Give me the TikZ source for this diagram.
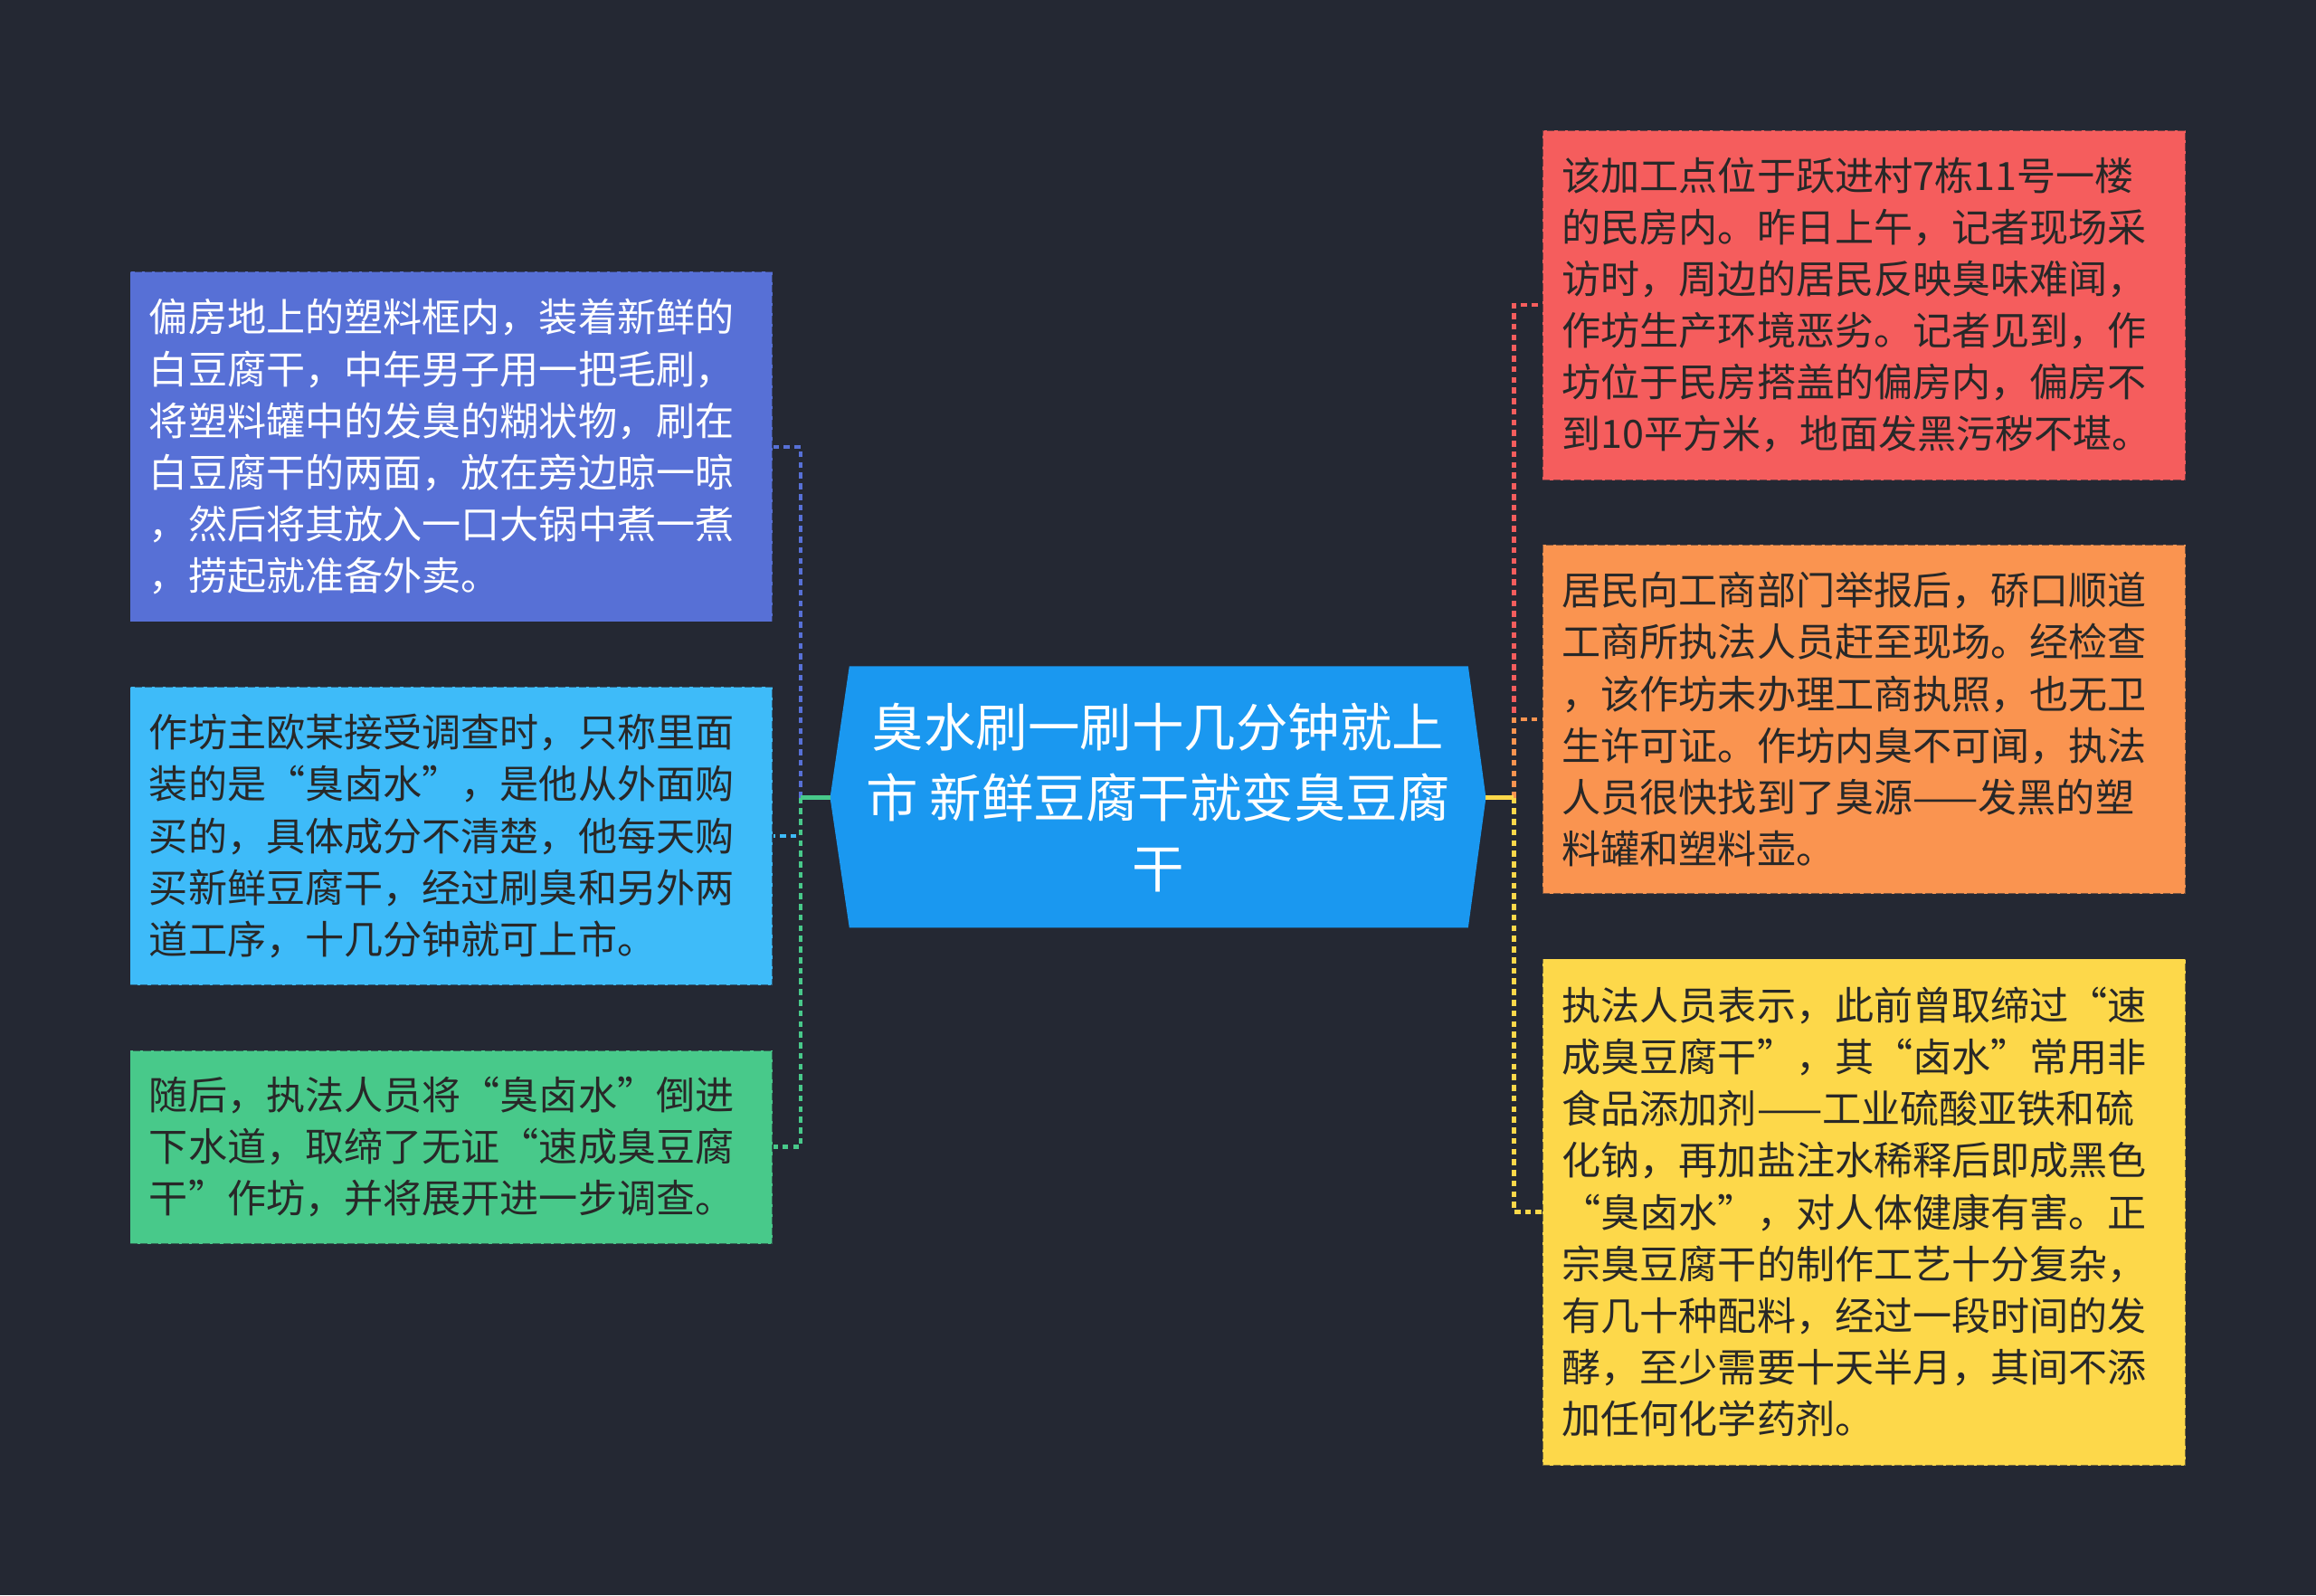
\documentclass[tikz,border=0pt]{standalone}
\usepackage{fontspec}
\setmainfont{Noto Sans CJK SC}
\definecolor{bg}{RGB}{36,40,51}
\definecolor{ink}{RGB}{40,40,40}
\definecolor{cmain}{RGB}{26,152,240}
\definecolor{cblue}{RGB}{87,112,214}
\definecolor{ccyan}{RGB}{62,187,249}
\definecolor{cgreen}{RGB}{72,201,138}
\definecolor{cred}{RGB}{245,93,93}
\definecolor{corange}{RGB}{250,148,80}
\definecolor{cyellow}{RGB}{253,216,74}
\begin{document}
\begin{tikzpicture}[x=1pt, y=-1pt,
  box/.style={rectangle, fill=#1, draw=bg, draw opacity=0.6, dash pattern=on 5pt off 2pt, line width=1pt,
    minimum width=435pt, text width=409pt, inner xsep=13pt, inner ysep=0pt, align=left,
    font=\fontsize{26.4}{35}\selectfont, text=ink},
  link/.style={draw=#1, line width=2.8pt, dash pattern=on 4pt off 3.2pt}]
  \useasboundingbox (0,0) rectangle (1568,1080);
  \fill[bg] (0,0) rectangle (1568,1080);
  % centre topic
  \fill[cmain] (562,540) -- (575,451) -- (994,451) -- (1006,540) -- (994,628) -- (575,628) -- cycle;
  \node[text=white, align=center, font=\fontsize{35.2}{48}\selectfont] (root) at (784,540)
    {臭水刷一刷十几分钟就上\\市 新鲜豆腐干就变臭豆腐\\干};
  \coordinate (rootL) at (562,540);
  \coordinate (rootR) at (1006,540);
  \coordinate (jl) at (542,540);
  \coordinate (jr) at (1025,540);
  % left side
  \node[box=cblue, text=white, minimum height=237pt] (lb1) at (305.5,302.5)
    {偏房地上的塑料框内，装着新鲜的\\白豆腐干，中年男子用一把毛刷，\\将塑料罐中的发臭的糊状物，刷在\\白豆腐干的两面，放在旁边晾一晾\\，然后将其放入一口大锅中煮一煮\\，捞起就准备外卖。};
  \node[box=ccyan, minimum height=202pt] (lb2) at (305.5,566)
    {作坊主欧某接受调查时，只称里面\\装的是“臭卤水”，是他从外面购\\买的，具体成分不清楚，他每天购\\买新鲜豆腐干，经过刷臭和另外两\\道工序，十几分钟就可上市。};
  \node[box=cgreen, minimum height=131pt] (lb3) at (305.5,776.5)
    {随后，执法人员将“臭卤水”倒进\\下水道，取缔了无证“速成臭豆腐\\干”作坊，并将展开进一步调查。};
  % right side
  \node[box=cred, minimum height=237pt] (rb1) at (1262,206.5)
    {该加工点位于跃进村7栋11号一楼\\的民房内。昨日上午，记者现场采\\访时，周边的居民反映臭味难闻，\\作坊生产环境恶劣。记者见到，作\\坊位于民房搭盖的偏房内，偏房不\\到10平方米，地面发黑污秽不堪。};
  \node[box=corange, minimum height=236pt] (rb2) at (1262,487)
    {居民向工商部门举报后，硚口顺道\\工商所执法人员赶至现场。经检查\\，该作坊未办理工商执照，也无卫\\生许可证。作坊内臭不可闻，执法\\人员很快找到了臭源——发黑的塑\\料罐和塑料壶。};
  \node[box=cyellow, minimum height=343pt] (rb3) at (1262,820.5)
    {执法人员表示，此前曾取缔过“速\\成臭豆腐干”，其“卤水”常用非\\食品添加剂——工业硫酸亚铁和硫\\化钠，再加盐注水稀释后即成黑色\\“臭卤水”，对人体健康有害。正\\宗臭豆腐干的制作工艺十分复杂，\\有几十种配料，经过一段时间的发\\酵，至少需要十天半月，其间不添\\加任何化学药剂。};
  % connectors
  \draw[link=cblue] (jl) |- (lb1.east);
  \draw[link=ccyan] (jl) |- (lb2.east);
  \draw[link=cgreen] (jl) |- (lb3.east);
  \draw[cgreen, line width=2.8pt] (rootL) -- (jl);
  \draw[link=cred] (jr) |- (rb1.west);
  \draw[link=corange] (jr) |- (rb2.west);
  \draw[link=cyellow] (jr) |- (rb3.west);
  \draw[cyellow, line width=2.8pt] (rootR) -- (jr);
\end{tikzpicture}
\end{document}
